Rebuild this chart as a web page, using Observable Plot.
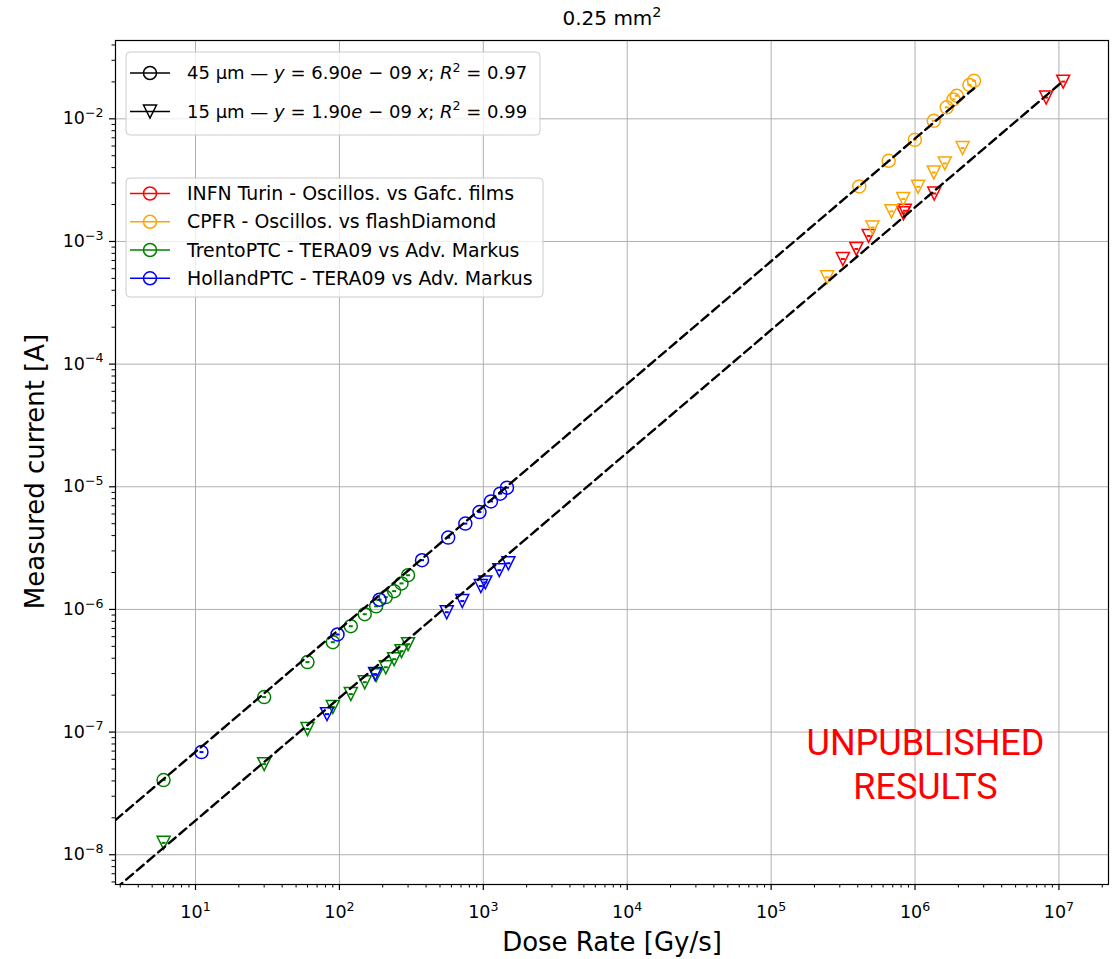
<!DOCTYPE html>
<html><head><meta charset="utf-8">
<script src="https://cdn.jsdelivr.net/npm/d3@7"></script>
<script src="https://cdn.jsdelivr.net/npm/@observablehq/plot@0.6"></script>
<style>body{margin:0;background:#fff}#chart{width:1117px;height:959px}</style>
</head><body><div id="chart"></div>
<script>
// ---- Data ----
const seriesNames = ["INFN Turin - Oscillos. vs Gafc. films", "CPFR - Oscillos. vs flashDiamond", "TrentoPTC - TERA09 vs Adv. Markus", "HollandPTC - TERA09 vs Adv. Markus"];
const seriesColors = ["red", "orange", "green", "blue"];
const thicknesses = [45, 15];
const fitSlopes = [6.90e-9, 1.90e-9];
const fitR2 = [0.97, 0.99];

const turinX15 = [3.15e5, 3.91e5, 4.76e5, 8.30e5, 8.50e5, 1.36e6, 8.15e6, 1.07e7];
const turinY15 = [7.20e-4, 8.69e-4, 1.11e-3, 1.70e-3, 1.78e-3, 2.46e-3, 1.49e-2, 2.01e-2];

const cpfrX45 = [4.1e5, 6.56e5, 9.97e5, 1.35e6, 1.66e6, 1.85e6, 1.95e6, 2.39e6, 2.57e6];
const cpfrY45 = [2.81e-3, 4.55e-3, 6.74e-3, 9.63e-3, 1.24e-2, 1.44e-2, 1.54e-2, 1.89e-2, 2.04e-2];
const cpfrX15 = [2.45e5, 5.06e5, 6.86e5, 8.27e5, 1.05e6, 1.35e6, 1.61e6, 2.14e6];
const cpfrY15 = [5.10e-4, 1.30e-3, 1.76e-3, 2.22e-3, 2.79e-3, 3.65e-3, 4.33e-3, 5.77e-3];

const trentoX = [6, 30, 60, 90, 120, 150, 180, 210, 240, 270, 300];
const trentoY45 = [4.06e-8, 1.93e-7, 3.72e-7, 5.41e-7, 7.30e-7, 9.14e-7, 1.06e-6, 1.26e-6, 1.41e-6, 1.63e-6, 1.90e-6];
const trentoY15 = [1.25e-8, 5.48e-8, 1.06e-7, 1.60e-7, 2.04e-7, 2.55e-7, 2.91e-7, 3.38e-7, 3.93e-7, 4.57e-7, 5.21e-7];

const hollandX45 = [11, 97, 190, 375, 570, 750, 940, 1130, 1310, 1460];
const hollandY45 = [6.87e-8, 6.25e-7, 1.20e-6, 2.52e-6, 3.85e-6, 5.01e-6, 6.22e-6, 7.60e-6, 8.79e-6, 9.84e-6];
const hollandX15 = [82, 177, 557, 714, 961, 1033, 1291, 1493];
const hollandY15 = [1.40e-7, 2.97e-7, 9.49e-7, 1.17e-6, 1.55e-6, 1.66e-6, 2.09e-6, 2.38e-6];

const xMajor = [1e1, 1e2, 1e3, 1e4, 1e5, 1e6, 1e7];
const yMajor = [1e-8, 1e-7, 1e-6, 1e-5, 1e-4, 1e-3, 1e-2];
const xDomain = [2.78, 2.21e7];
const yDomain = [5.72e-9, 0.0435];

// ---- Build tables ----
const groups = [
  {s: 0, t: 15, xs: turinX15, ys: turinY15},
  {s: 1, t: 45, xs: cpfrX45, ys: cpfrY45},
  {s: 1, t: 15, xs: cpfrX15, ys: cpfrY15},
  {s: 2, t: 45, xs: trentoX, ys: trentoY45},
  {s: 2, t: 15, xs: trentoX, ys: trentoY15},
  {s: 3, t: 45, xs: hollandX45, ys: hollandY45},
  {s: 3, t: 15, xs: hollandX15, ys: hollandY15}
];
const tables = groups.map(g => g.xs.map((x, i) => ({x, y: g.ys[i]})));

const minor = (dom) => {
  const out = [];
  for (let e = Math.floor(Math.log10(dom[0])); e <= Math.ceil(Math.log10(dom[1])); e++)
    for (let k = 2; k <= 9; k++) { const v = k * Math.pow(10, e); if (v >= dom[0] && v <= dom[1]) out.push(v); }
  return out;
};
const fmtPow = v => "10^" + Math.round(Math.log10(v));

// fit lines: from left domain edge to max x of each thickness
const fitLines = thicknesses.map((t, k) => {
  const xs = groups.filter(g => g.t === t).flatMap(g => g.xs);
  const xmax = d3.max(xs);
  return [xDomain[0], xmax].map(x => ({x, y: fitSlopes[k] * x}));
});

const circleSym = {draw(ctx, size) { const r = Math.sqrt(size / Math.PI); ctx.moveTo(r, 0); ctx.arc(0, 0, r, 0, 2 * Math.PI); }};
const triDown = {draw(ctx, size) { const r = Math.sqrt(size / Math.PI); ctx.moveTo(-r, -r); ctx.lineTo(r, -r); ctx.lineTo(0, r); ctx.closePath(); }};
const dashSym = {draw(ctx, size) { ctx.moveTo(-2, 0); ctx.lineTo(2, 0); }};

const FONT = "DejaVu Sans";
const marks = [
  Plot.gridX(xMajor, {stroke: "#b0b0b0", strokeOpacity: 1, strokeWidth: 1}),
  Plot.gridY(yMajor, {stroke: "#b0b0b0", strokeOpacity: 1, strokeWidth: 1}),
  Plot.axisX(minor(xDomain), {tickSize: 3.5, tickFormat: () => "", label: null, strokeWidth: 1}),
  Plot.axisY(minor(yDomain), {tickSize: 3.5, tickFormat: () => "", label: null, strokeWidth: 1}),
  Plot.axisX(xMajor, {tickSize: 6, tickPadding: 15, tickFormat: fmtPow, label: null, fontSize: 17.5, strokeWidth: 1.2}),
  Plot.axisY(yMajor, {tickSize: 6, tickPadding: 6, tickFormat: fmtPow, label: null, fontSize: 17.5, strokeWidth: 1.2})
];
groups.forEach((g, i) => {
  marks.push(Plot.dot(tables[i], {x: "x", y: "y", r: 6.5, symbol: g.t === 45 ? circleSym : triDown, stroke: seriesColors[g.s], strokeWidth: 1.5, fill: "none"}));
  marks.push(Plot.dot(tables[i], {x: "x", y: "y", r: 6.5, symbol: dashSym, stroke: seriesColors[g.s], strokeWidth: 2, fill: "none"}));
});
fitLines.forEach(fl => marks.push(Plot.line(fl, {x: "x", y: "y", stroke: "black", strokeWidth: 2.4, strokeDasharray: "9,5", clip: true})));
marks.push(
  Plot.frame({stroke: "black", strokeWidth: 1.2}),
  Plot.text(["0.25 mm^2"], {text: d => d, frameAnchor: "top", lineAnchor: "middle", dy: -22, fontSize: 20, fill: "black"}),
  Plot.text(["Dose Rate [Gy/s]"], {text: d => d, frameAnchor: "bottom", lineAnchor: "middle", dy: 58, fontSize: 26, fill: "black"}),
  Plot.text(["Measured current [A]"], {text: d => d, frameAnchor: "left", dx: -80, dy: 9, rotate: -90, textAnchor: "middle", lineAnchor: "middle", fontSize: 26, fill: "black"}),
  Plot.text(["UNPUBLISHED\nRESULTS"], {text: d => d, frameAnchor: "bottom-right", dx: -183, dy: -86, fontSize: 36, lineHeight: 1.22, fill: "red", fontFamily: "Roboto", textAnchor: "middle"})
);

const chart = Plot.plot({
  width: 1117, height: 959,
  marginTop: 40, marginRight: 9, marginBottom: 75, marginLeft: 115,
  style: {fontFamily: FONT, fontSize: "15px", background: "white", color: "black", overflow: "visible"},
  x: {type: "log", domain: xDomain, label: null},
  y: {type: "log", domain: yDomain, label: null},
  marks
});
document.getElementById("chart").appendChild(chart);

const svg = d3.select(chart);
// turn "a^b" labels into a with a superscript b
svg.selectAll("text").each(function() {
  const t = d3.select(this);
  const s = t.text();
  const m = /^(.*)\^(-?\d+)$/.exec(s);
  if (!m) return;
  const fs = parseFloat(getComputedStyle(this).fontSize) || 16;
  t.text("");
  t.append("tspan").text(m[1]);
  t.append("tspan").attr("dy", -0.42 * fs).attr("font-size", 0.72 * fs).text(m[2].replace("-", "−"));
});

// ---- Legends (drawn into the SVG) ----
function legendBox(x, y, w, h) {
  svg.append("rect").attr("x", x).attr("y", y).attr("width", w).attr("height", h).attr("rx", 4)
    .attr("fill", "white").attr("fill-opacity", 0.8).attr("stroke", "#cccccc").attr("stroke-width", 1);
}
function legendHandle(cy, color, sym) {
  const g = svg.append("g").attr("stroke", color).attr("fill", "none").attr("stroke-width", 1.5);
  g.append("line").attr("x1", 130).attr("x2", 170).attr("y1", cy).attr("y2", cy);
  const p = d3.path(); sym.draw(p, 6.5 * 6.5 * Math.PI);
  g.append("path").attr("d", p.toString()).attr("transform", `translate(150,${cy})`);
}
// fit legend
legendBox(126, 52, 414, 83);
thicknesses.forEach((t, k) => {
  const cy = [73, 111.5][k];
  legendHandle(cy, "black", t === 45 ? circleSym : triDown);
  const [mant, ex] = fitSlopes[k].toExponential(2).split("e");
  const expStr = String(Math.abs(+ex)).padStart(2, "0");
  const fs = 18;
  const tx = svg.append("text").attr("x", 187).attr("y", cy).attr("dy", "0.35em").attr("text-anchor", "start")
    .attr("font-family", FONT).attr("font-size", fs).attr("fill", "black");
  const parts = [
    [`${t} µm — `, false], ["y", true], [` = ${mant}`, false], ["e", true], [` − ${expStr} `, false], ["x", true], ["; ", false], ["R", true]
  ];
  parts.forEach(([s, it]) => tx.append("tspan").attr("font-style", it ? "italic" : null).text(s));
  tx.append("tspan").attr("dy", -0.42 * fs).attr("font-size", 0.7 * fs).text("2");
  tx.append("tspan").attr("dy", 0.42 * fs).text(` = ${fitR2[k].toFixed(2)}`);
});
// series legend
legendBox(126, 178, 417, 119);
seriesNames.forEach((name, i) => {
  const cy = [193.5, 221.8, 250, 278.3][i];
  legendHandle(cy, seriesColors[i], circleSym);
  svg.append("text").attr("x", 187).attr("y", cy).attr("dy", "0.35em").attr("text-anchor", "start")
    .attr("font-family", FONT).attr("font-size", 18.9).attr("fill", "black").text(name);
});
</script></body></html>
